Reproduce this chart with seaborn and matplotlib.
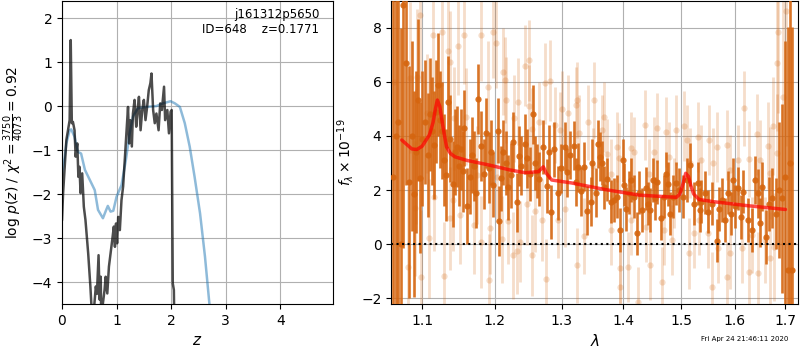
import numpy as np
import matplotlib
matplotlib.use("Agg")
import matplotlib.pyplot as plt
from matplotlib.ticker import NullLocator
import seaborn as sns

# --- left panel: log p(z) curves ---
z_chi2 = [0.0, 0.05, 0.08, 0.14, 0.17, 0.23, 0.29, 0.35, 0.42, 0.51, 0.60, 0.66,
          0.75, 0.81, 0.84, 0.89, 0.94, 1.00, 1.09, 1.17, 1.24, 1.30, 1.39, 1.55,
          1.73, 1.85, 1.99, 2.07, 2.16, 2.25, 2.34, 2.43, 2.53, 2.62, 2.70, 2.75]
lnp_chi2 = [-1.53, -1.15, -0.85, -0.55, -0.53, -0.70, -1.04, -1.08, -1.45, -1.68,
            -1.91, -2.36, -2.55, -2.36, -2.27, -2.40, -2.38, -2.06, -1.80, -1.23,
            -0.62, -0.24, -0.05, -0.02, 0.0, 0.06, 0.11, 0.06, -0.02, -0.39, -0.92,
            -1.61, -2.44, -3.42, -4.48, -5.0]

z_pz = [0.0, 0.02, 0.05, 0.08, 0.11, 0.14, 0.16, 0.18, 0.20, 0.23, 0.25, 0.28,
        0.30, 0.32, 0.34, 0.37, 0.40, 0.43, 0.48, 0.52, 0.56, 0.60, 0.62, 0.64,
        0.67, 0.69, 0.71, 0.72, 0.75, 0.78, 0.80, 0.83, 0.86, 0.89, 0.92, 0.95,
        0.97, 0.99, 1.01, 1.03, 1.06, 1.09, 1.12, 1.15, 1.18, 1.21, 1.23, 1.25,
        1.28, 1.30, 1.33, 1.36, 1.38, 1.41, 1.44, 1.47, 1.50, 1.53, 1.56, 1.59,
        1.62, 1.64, 1.67, 1.70, 1.73, 1.77, 1.80, 1.83, 1.87, 1.89, 1.93, 1.96,
        1.99, 2.01, 2.02, 2.03, 2.05, 2.07]
lnp_pz = [-2.6, -1.98, -1.38, -0.77, -0.55, -0.32, 1.5, -0.39, -0.36, -0.55, -1.15,
          -0.85, -1.61, -1.38, -1.98, -1.53, -2.29, -2.59, -3.35, -4.1, -5.0, -4.4,
          -4.1, -4.27, -3.39, -4.4, -3.88, -5.0, -4.48, -4.18, -3.88, -4.26, -3.65,
          -3.35, -3.05, -2.74, -3.2, -2.67, -3.12, -2.52, -2.82, -2.14, -1.83, -1.23,
          -0.62, -0.02, -0.85, -0.32, -0.92, -0.17, 0.14, -0.47, -0.17, 0.21, -0.55,
          -0.09, 0.14, -0.32, -0.02, 0.36, 0.52, 0.74, -0.09, -0.39, -0.17, -0.55,
          0.06, -0.09, 0.44, -0.32, -0.09, -0.62, -0.13, -0.09, -2.14, -4.03, -4.18,
          -6.0]

# --- right panel: spectrum (microns, flux x 1e-19) ---
wave_g = [1.0625, 1.0655, 1.069, 1.0726, 1.0756, 1.0795, 1.083, 1.0865, 1.0895, 1.0925,
          1.0943, 1.0975, 1.1005, 1.1044, 1.1075, 1.1106, 1.1135, 1.1164, 1.1185, 1.1209,
          1.1238, 1.1267, 1.129, 1.1313, 1.1344, 1.1375, 1.1417, 1.144, 1.1463, 1.1495,
          1.152, 1.1548, 1.1573, 1.161, 1.1643, 1.168, 1.171, 1.1727, 1.176, 1.1807,
          1.184, 1.1878, 1.1912, 1.1945, 1.1975, 1.204, 1.2055, 1.209, 1.2125, 1.216,
          1.2195, 1.223, 1.227, 1.232, 1.236, 1.239, 1.244, 1.248, 1.252, 1.256,
          1.26, 1.263, 1.266, 1.272, 1.277, 1.281, 1.284, 1.289, 1.294, 1.299,
          1.306, 1.309, 1.313, 1.319, 1.322, 1.326, 1.331, 1.335, 1.341, 1.346,
          1.349, 1.354, 1.358, 1.362, 1.365, 1.368, 1.373, 1.379, 1.384, 1.39,
          1.395, 1.3985, 1.401, 1.405, 1.409, 1.412, 1.418, 1.423, 1.427, 1.432,
          1.438, 1.442, 1.445, 1.451, 1.4545, 1.458, 1.464, 1.47, 1.4735, 1.477,
          1.481, 1.486, 1.491, 1.497, 1.504, 1.51, 1.517, 1.523, 1.53, 1.5344,
          1.536, 1.5437, 1.55, 1.5561, 1.5655, 1.57, 1.575, 1.5813, 1.5863, 1.5927,
          1.5959, 1.601, 1.6068, 1.612, 1.6165, 1.6249, 1.6327, 1.6393, 1.6445, 1.6492,
          1.6538, 1.6604, 1.667, 1.6724, 1.6804, 1.686, 1.6926, 1.699, 1.7049, 1.709,
          1.7131]
flux_g = [2.5, 4.0, 4.5, 0.0, 8.85, 6.7, 2.3, 4.0, 1.85, 3.4,
          5.33, 2.46, 3.9, 4.53, 3.3, 4.8, 4.2, 3.67, 4.9, 5.9,
          4.6, 4.2, 3.1, 2.55, 5.25, 3.9, 2.22, 3.4, 3.6, 2.9,
          3.5, 2.7, 4.3, 1.4, 2.5, 3.3, 2.9, 1.88, 5.36, 3.64,
          2.6, 4.1, 2.83, 3.4, 2.2, 4.2, 0.85, 2.43, 3.4, 3.0,
          2.1, 2.55, 3.77, 1.54, 3.26, 2.9, 3.7, 3.17, 2.6, 4.8,
          3.0, 2.7, 2.4, 3.6, 2.15, 3.4, 1.2, 3.5, 1.9, 2.8,
          3.6, 2.65, 3.3, 3.64, 2.3, 2.84, 1.95, 2.86, 1.23, 1.57,
          3.0, 1.9, 3.7, 3.23, 3.0, 2.1, 2.4, 1.57, 1.63, 1.75,
          0.52, 3.1, 2.2, 1.3, 1.9, 2.37, 1.75, 0.4, 1.9, 1.26,
          2.06, 1.5, 1.26, 2.37, 1.7, 2.3, 0.95, 1.75, 2.6, 2.22,
          1.13, 1.75, 2.25, 2.0, 1.75, 2.37, 2.93, 1.5, 2.25, 1.26,
          1.57, 1.9, 1.2, 1.5, 0.12, 1.3, 1.63, 0.89, 1.9, 1.13,
          2.37, 1.4, 2.06, 1.0, 1.94, 0.89, 0.52, 2.37, 1.88, 0.79,
          2.12, 0.27, 1.5, 1.7, 1.13, 2.0, 1.7, 2.5, -0.96, 3.0,
          -0.96]
err_g = [9, 8, 8, 8, 9, 4.5, 4.3, 3.5, 3.8, 3.0,
         3.0, 2.8, 2.5, 2.3, 2.3, 2.1, 2.0, 2.0, 1.9, 1.9,
         1.8, 1.8, 1.7, 1.7, 1.7, 1.6, 1.6, 1.6, 1.5, 1.5,
         1.5, 1.5, 1.4, 1.4, 1.4, 1.4, 1.3, 1.3, 1.3, 1.3,
         1.3, 1.3, 1.3, 1.2, 1.2, 1.2, 1.3, 1.2, 1.2, 1.2,
         1.2, 1.2, 1.1, 1.1, 1.1, 1.1, 1.1, 1.1, 1.0, 1.1,
         1.0, 1.0, 1.0, 1.0, 1.0, 1.0, 1.0, 1.0, 1.0, 0.9,
         0.9, 0.9, 0.9, 0.9, 0.9, 0.9, 0.9, 0.9, 0.9, 0.9,
         0.9, 0.9, 0.9, 0.9, 0.8, 0.8, 0.8, 0.8, 0.8, 0.8,
         0.8, 0.8, 0.8, 0.8, 0.8, 0.8, 0.8, 0.8, 0.8, 0.8,
         0.8, 0.8, 0.8, 0.8, 0.8, 0.8, 0.8, 0.8, 0.8, 0.8,
         0.8, 0.8, 0.8, 0.8, 0.8, 0.8, 0.8, 0.8, 0.8, 0.8,
         0.8, 0.8, 0.8, 0.8, 0.8, 0.8, 0.8, 0.8, 0.8, 0.8,
         0.8, 0.8, 0.8, 0.8, 0.8, 0.8, 0.8, 0.9, 0.9, 0.9,
         0.9, 1.0, 1.0, 1.1, 1.3, 2.5, 3.5, 5.0, 9, 9,
         9]

wave_l = [1.064, 1.081, 1.084, 1.091, 1.092, 1.093, 1.0978, 1.0985, 1.107, 1.109,
          1.115, 1.116, 1.127, 1.129, 1.135, 1.137, 1.138, 1.141, 1.143, 1.149,
          1.151, 1.156, 1.159, 1.171, 1.175, 1.18, 1.181, 1.19, 1.192, 1.193,
          1.197, 1.202, 1.203, 1.21, 1.212, 1.215, 1.216, 1.219, 1.227, 1.228,
          1.233, 1.234, 1.237, 1.245, 1.248, 1.2496, 1.251, 1.255, 1.2555, 1.259,
          1.265, 1.27, 1.275, 1.2755, 1.282, 1.29, 1.294, 1.297, 1.301, 1.306,
          1.31, 1.322, 1.324, 1.325, 1.328, 1.335, 1.342, 1.35, 1.351, 1.364,
          1.368, 1.372, 1.379, 1.3795, 1.389, 1.392, 1.394, 1.395, 1.407, 1.412,
          1.4125, 1.418, 1.424, 1.436, 1.438, 1.443, 1.445, 1.452, 1.458, 1.467,
          1.47, 1.474, 1.478, 1.484, 1.487, 1.491, 1.506, 1.51, 1.514, 1.517,
          1.523, 1.53, 1.532, 1.537, 1.549, 1.552, 1.556, 1.558, 1.567, 1.5675,
          1.585, 1.5855, 1.59, 1.5905, 1.607, 1.613, 1.617, 1.627, 1.628, 1.633,
          1.643, 1.645, 1.649, 1.659, 1.665, 1.668, 1.6685, 1.675, 1.677, 1.682,
          1.6825, 1.684, 1.695, 1.702]
flux_l = [6.0, -0.84, 6.16, 1.32, 3.23, 6.2, 8.48, -1.23, 4.84, 0.21,
          7.74, 1.73, 7.84, -1.19, 7.15, 0.95, 6.73, 1.63, 4.65, 7.33,
          1.07, 7.74, 4.72, 0.7, 2.56, 7.74, 0.09, 5.83, -1.33, 0.58,
          7.86, 7.46, 2.5, 0.17, 6.38, 6.07, 5.33, 0.85, -0.42, 4.65,
          -0.25, 5.27, 0.09, 6.6, 1.48, 6.81, 5.11, 4.26, -0.42, 1.21,
          4.5, 0.89, 5.95, -1.31, 6.05, 4.4, 0.89, 4.22, 5.0, 1.3,
          4.84, 5.15, 5.33, -0.79, 4.1, 0.3, 4.5, 2.9, 5.33, 4.22,
          4.69, 3.33, 2.6, 0.52, 3.6, 3.17, -0.9, -1.6, -0.84, 3.57,
          0.89, 3.42, -2.14, 4.4, 0.64, 2.6, -0.78, 3.4, 4.3, -1.4,
          0.52, 4.14, 3.23, 0.15, 1.88, 4.22, 4.38, 3.85, -0.35, 2.99,
          0.4, 3.95, 0.89, 3.1, 0.4, 3.85, -1.58, 2.99, 3.6, -0.16,
          3.67, -1.21, 2.74, -0.35, 3.1, -0.16, 5.02, 3.14, -1.02, 0.33,
          4.07, -1.06, 3.1, 0.15, 3.64, 2.62, -0.53, 4.37, -0.1, 3.36,
          6.7, 7.86, 5.46, 8.64]
err_l = [8, 3.0, 2.8, 2.5, 2.5, 2.5, 2.5, 2.5, 2.2, 2.2,
         2.2, 2.0, 2.0, 2.0, 2.0, 1.9, 1.9, 1.9, 1.9, 1.8,
         1.8, 1.8, 1.8, 1.8, 1.8, 1.7, 1.7, 1.7, 1.7, 1.7,
         1.7, 1.7, 1.7, 1.6, 1.6, 1.6, 1.6, 1.6, 1.6, 1.6,
         1.6, 1.6, 1.5, 1.5, 1.5, 1.5, 1.5, 1.5, 1.5, 1.5,
         1.5, 1.5, 1.5, 1.5, 1.5, 1.4, 1.4, 1.4, 1.4, 1.4,
         1.4, 1.4, 1.4, 1.4, 1.4, 1.4, 1.4, 1.4, 1.4, 1.3,
         1.3, 1.3, 1.3, 1.3, 1.3, 1.3, 1.3, 1.3, 1.3, 1.3,
         1.3, 1.3, 1.3, 1.3, 1.3, 1.3, 1.3, 1.3, 1.3, 1.3,
         1.3, 1.3, 1.3, 1.3, 1.3, 1.3, 1.3, 1.3, 1.3, 1.3,
         1.3, 1.3, 1.3, 1.3, 1.3, 1.3, 1.3, 1.3, 1.3, 1.3,
         1.3, 1.3, 1.3, 1.3, 1.3, 1.3, 1.4, 1.4, 1.4, 1.4,
         1.5, 1.5, 1.5, 1.6, 1.6, 1.7, 1.7, 1.8, 2.0, 2.2,
         2.5, 3.0, 4.0, 5.0]

# best-fit template
wave_model = [1.0735, 1.0865, 1.093, 1.100, 1.1097, 1.1145, 1.118, 1.1203, 1.1235, 1.1275,
              1.1326, 1.138, 1.144, 1.16, 1.191, 1.2225, 1.2446, 1.2646, 1.2719, 1.2765,
              1.2848, 1.3161, 1.3689, 1.4267, 1.4918, 1.498, 1.504, 1.5085, 1.5136, 1.518,
              1.523, 1.5328, 1.5586, 1.6242, 1.70]
flux_model = [3.85, 3.52, 3.5, 3.62, 4.04, 4.5, 5.05, 5.33, 5.1, 4.4,
              3.6, 3.35, 3.23, 3.1, 2.93, 2.74, 2.64, 2.68, 2.86, 2.62,
              2.37, 2.26, 2.02, 1.81, 1.73, 1.85, 2.25, 2.62, 2.5, 2.15,
              1.85, 1.65, 1.57, 1.42, 1.28]

lam_ticks = [1.1, 1.2, 1.3, 1.4, 1.5, 1.6, 1.7]
lam_tick_labels = ['1.1', '1.2', '1.3', '1.4', '1.5', '1.6', '1.7']

sns.set_style("ticks")
plt.rcParams['font.family'] = ['DejaVu Sans']
plt.rcParams['text.color'] = 'black'
plt.rcParams['axes.labelcolor'] = 'black'
plt.rcParams['xtick.color'] = 'black'
plt.rcParams['ytick.color'] = 'black'
plt.rcParams['axes.edgecolor'] = 'black'

fig = plt.figure(figsize=(8, 3.5), dpi=100)
ax1 = fig.add_axes([0.0775, 0.1314, 0.339, 0.866])
ax2 = fig.add_axes([0.489, 0.1314, 0.509, 0.866])

# left: redshift probability
sns.lineplot(x=z_chi2, y=lnp_chi2, ax=ax1, color='tab:blue', alpha=0.5, lw=1.8,
             sort=False, estimator=None)
sns.lineplot(x=z_pz, y=lnp_pz, ax=ax1, color='k', alpha=0.7, lw=1.8,
             sort=False, estimator=None)
ax1.set_xlim(0, 4.97)
ax1.set_ylim(-4.5, 2.39)
ax1.grid(True, color='#b0b0b0', lw=0.8)
ax1.set_xlabel(r'$z$', fontsize=11)
ax1.set_ylabel(r'$\log\,p(z)$ / $\chi^2=\frac{3750}{4073}=0.92$', fontsize=10)
ax1.text(0.948, 0.975, 'j161312p5650\nID=648    z=0.1771', transform=ax1.transAxes,
         ha='right', va='top', fontsize=8.5)

# right: spectrum
orange = '#d5650f'
ax2.errorbar(wave_l, flux_l, yerr=err_l, fmt='o', color=orange, alpha=0.22,
             ms=4.5, elinewidth=2.0, mew=0, zorder=2)
ax2.errorbar(wave_g, flux_g, yerr=err_g, fmt='o', color=orange, alpha=0.9,
             ms=4.5, elinewidth=1.9, mew=0, zorder=3)
sns.lineplot(x=wave_model, y=flux_model, ax=ax2, color='r', alpha=0.7, lw=2.5,
             sort=False, estimator=None, zorder=4)
ax2.axhline(0, color='k', ls=':', lw=1.5, zorder=5)
ax2.set_xscale('log')
ax2.set_xlim(1.06, 1.7266)
ax2.set_ylim(-2.22, 9.0)
ax2.set_xticks(lam_ticks, labels=lam_tick_labels)
ax2.xaxis.set_minor_locator(NullLocator())
ax2.set_yticks([-2, 0, 2, 4, 6, 8])
ax2.grid(True, color='#b0b0b0', lw=0.8)
ax2.set_xlabel(r'$\lambda$', fontsize=11)
ax2.set_ylabel(r'$f_\lambda \times 10^{-19}$', fontsize=10)

fig.text(0.985, 0.031, 'Fri Apr 24 21:46:11 2020', ha='right', va='center', fontsize=5)

fig.savefig('out.png', dpi=100)
